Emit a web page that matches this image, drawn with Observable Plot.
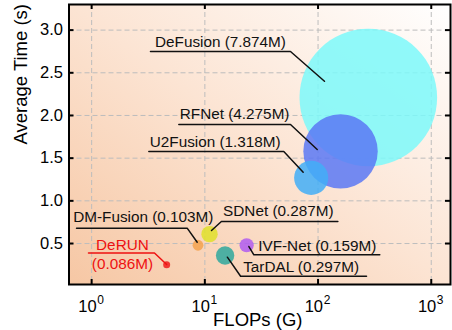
<!DOCTYPE html>
<html><head><meta charset="utf-8">
<script src="https://cdn.jsdelivr.net/npm/d3@7"></script>
<script src="https://cdn.jsdelivr.net/npm/@observablehq/plot@0.6"></script>
<style>body{margin:0;background:#fff}</style>
</head><body><div id="chart"></div>
<script>
// ---- data ----
const models = ["DeFusion", "RFNet", "U2Fusion", "SDNet", "DM-Fusion", "DeRUN", "TarDAL", "IVF-Net"];
const flops  = [278, 158, 87, 11.0, 8.7, 4.6, 15.1, 23.4];        // FLOPs (G)
const times  = [2.21, 1.58, 1.27, 0.61, 0.48, 0.25, 0.36, 0.48];  // Average time (s)
const params = [7.874, 4.275, 1.318, 0.287, 0.103, 0.086, 0.297, 0.159]; // params (M)
const colors = ["#7cf9fa", "#5a78f5", "#42aef7", "#e0e02a", "#f5a24e", "#ee1c1c", "#2fa89e", "#b05cf0"];
const xTicks = [1, 10, 100, 1000];
const xExponents = ["0", "1", "2", "3"];
const yTicks = [0.5, 1.0, 1.5, 2.0, 2.5, 3.0];

// ---- annotation layout (data coordinates) ----
const textX  = [3.63, 6.01, 3.26, 14.5, 0.687, 1.87, 21.8, 29.6];
const textY  = [2.808, 1.953, 1.628, 0.828, 0.750, 0.196, 0.172, 0.418];
const farX   = [3.31, 5.89, 3.20, 149.6, 0.735, 0.938, 268, 351];
const elbowX = [57.1, 57.1, 49.8, 14.0, 6.98, 3.59, 20.7, 27.1];
const lineY  = [2.749, 1.894, 1.578, 0.758, 0.680, 0.389, 0.117, 0.368];
const tipX   = [114, 98.3, 73.9, 11.45, 8.56, 4.6, 15.8, 24.5];
const tipY   = [2.401, 1.601, 1.335, 0.653, 0.515, 0.254, 0.340, 0.465];

const sortedParams = [...params].sort((a, b) => a - b);
const radiusRange = [3.5, 5.4, 7.1, 8.2, 9.2, 17.1, 37.2, 68.8];

const data = models.map((m, i) => ({model: m, flops: flops[i], time: times[i], params: params[i], color: colors[i]}));
const hi = "DeRUN";
const ann = models.map((m, i) => ({
  model: m,
  text: m === hi ? `${m}\n(${params[i].toFixed(3)}M)` : `${m} (${params[i].toFixed(3)}M)`,
  x: textX[i], y: textY[i],
  color: m === hi ? "#ee1111" : "#111111"
}));
const pts = models.flatMap((m, i) => {
  const c = m === hi ? "#ee1111" : "#111111";
  return [
    {model: m, x: farX[i], y: lineY[i], c},
    {model: m, x: elbowX[i], y: lineY[i], c},
    {model: m, x: tipX[i], y: tipY[i], c}
  ];
});

const FW = 452 - 68.5 - 2, FH = 330 - 4 - 46;

const svg = Plot.plot({
  width: 452, height: 330,
  marginLeft: 68.5, marginRight: 2, marginTop: 4, marginBottom: 46,
  x: {type: "log", domain: [10 ** -0.2, 10 ** 3.17], axis: null},
  y: {domain: [0.02, 3.3], axis: null},
  r: {type: "linear", domain: sortedParams, range: radiusRange},
  color: {type: "identity"},
  style: {fontFamily: "'Liberation Sans', Arial, sans-serif", fontSize: "15px", color: "black", background: "white", overflow: "visible"},
  marks: [
    Plot.frame({fill: "url(#bgGrad)", stroke: "none"}),
    Plot.ruleX(xTicks, {stroke: "#bdbdbd", strokeDasharray: "5,3", strokeWidth: 1}),
    Plot.ruleY(yTicks, {stroke: "#bdbdbd", strokeDasharray: "5,3", strokeWidth: 1}),
    Plot.dot(data, {x: "flops", y: "time", r: "params", fill: "color", fillOpacity: 0.85, stroke: "none", sort: {channel: "-r"}}),
    Plot.line(pts, {x: "x", y: "y", z: "model", stroke: "c", strokeWidth: 1.5, curve: "linear"}),
    Plot.text(ann.filter(d => d.model !== hi), {x: "x", y: "y", text: "text", fill: "color", textAnchor: "start", lineAnchor: "bottom", fontSize: 15.3}),
    Plot.text(ann.filter(d => d.model === hi), {x: "x", y: "y", text: "text", fill: "color", textAnchor: "middle", lineAnchor: "bottom", lineHeight: 1.25, fontSize: 15.3}),
    // inward ticks
    Plot.ruleX(xTicks, {insetTop: FH - 5, stroke: "black", strokeWidth: 2}),
    Plot.ruleX(xTicks, {insetBottom: FH - 5, stroke: "black", strokeWidth: 2}),
    Plot.ruleY(yTicks, {insetRight: FW - 5, stroke: "black", strokeWidth: 2}),
    Plot.ruleY(yTicks, {insetLeft: FW - 5, stroke: "black", strokeWidth: 2}),
    // tick labels
    Plot.text(yTicks, {y: d => d, frameAnchor: "left", textAnchor: "end", lineAnchor: "middle", dx: -6, text: d => d.toFixed(1), fontSize: 16.5}),
    Plot.text(xTicks, {x: d => d, frameAnchor: "bottom", textAnchor: "end", lineAnchor: "bottom", dx: 5, dy: 27.7, text: () => "10", fontSize: 16.5}),
    Plot.text(xTicks, {x: d => d, frameAnchor: "bottom", textAnchor: "start", lineAnchor: "bottom", dx: 5.6, dy: 19.5, text: (d, i) => xExponents[i], fontSize: 12}),
    // axis labels
    Plot.text(["FLOPs (G)"], {frameAnchor: "bottom", lineAnchor: "bottom", dy: 41, dx: -2, fontSize: 18.5, text: d => d}),
    Plot.text(["Average Time (s)"], {frameAnchor: "left", lineAnchor: "bottom", rotate: -90, dx: -42, fontSize: 18.5, text: d => d}),
    Plot.frame({stroke: "black", strokeWidth: 2})
  ]
});

const defs = d3.select(svg).insert("defs", ":first-child");
const g = defs.append("linearGradient").attr("id", "bgGrad")
  .attr("x1", "0").attr("y1", "1").attr("x2", "1").attr("y2", "0");
g.append("stop").attr("offset", "0").attr("stop-color", "#f6c7a4");
g.append("stop").attr("offset", "0.5").attr("stop-color", "#fce4d3");
g.append("stop").attr("offset", "1").attr("stop-color", "#ffffff");

document.getElementById("chart").appendChild(svg);
</script>
</body></html>
